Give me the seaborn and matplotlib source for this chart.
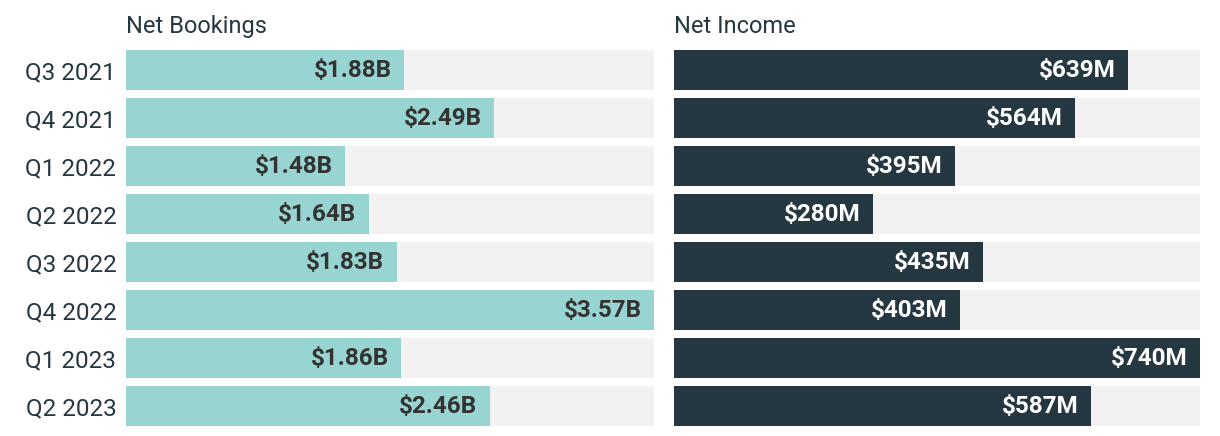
import matplotlib
matplotlib.use("Agg")
import matplotlib.pyplot as plt
import seaborn as sns
import pandas as pd

# data
quarters = ["Q3 2021", "Q4 2021", "Q1 2022", "Q2 2022",
            "Q3 2022", "Q4 2022", "Q1 2023", "Q2 2023"]
net_bookings = [1.88, 2.49, 1.48, 1.64, 1.83, 3.57, 1.86, 2.46]   # $B
net_income = [639, 564, 395, 280, 435, 403, 740, 587]             # $M
bookings_labels = [f"${v:.2f}B" for v in net_bookings]
income_labels = [f"${v}M" for v in net_income]

teal = "#98d5d2"
dark = "#253841"
track = "#f2f2f2"

sns.set_theme(style="white")
plt.rcParams["font.family"] = ["Roboto", "DejaVu Sans"]

fig = plt.figure(figsize=(12.2, 4.36), dpi=100)
ax1 = fig.add_axes([126 / 1220, 10 / 436, 528 / 1220, 376 / 436])
ax2 = fig.add_axes([674 / 1220, 10 / 436, 526 / 1220, 376 / 436])

bar_w = 40 / 48


def draw_panel(ax, values, labels, title, color, text_color):
    df = pd.DataFrame({"quarter": quarters, "value": values,
                       "track": [max(values)] * len(values)})
    # grey track behind each bar
    sns.barplot(data=df, x="track", y="quarter", orient="h", color=track,
                width=bar_w, ax=ax, saturation=1, linewidth=0)
    sns.barplot(data=df, x="value", y="quarter", orient="h", color=color,
                width=bar_w, ax=ax, saturation=1, linewidth=0)
    ax.set_xlim(0, max(values))
    ax.set_ylim(len(quarters) - 1 + bar_w / 2, -bar_w / 2)
    ax.set_xlabel("")
    ax.set_ylabel("")
    ax.set_xticks([])
    sns.despine(ax=ax, left=True, bottom=True)
    # value labels inside the bar end
    for i, (v, lab) in enumerate(zip(values, labels)):
        ax.annotate(lab, xy=(v, i), xytext=(-9, 0), textcoords="offset points",
                    ha="right", va="center", fontsize=17.5, fontweight="bold",
                    color=text_color)
    ax.text(0, 1.045, title, transform=ax.transAxes, ha="left", va="baseline",
            fontsize=17, color=dark)


draw_panel(ax1, net_bookings, bookings_labels, "Net Bookings", teal, "#333333")
draw_panel(ax2, net_income, income_labels, "Net Income", dark, "white")

ax1.tick_params(axis="y", length=0, pad=7, labelsize=17.5, labelcolor=dark)
ax2.set_yticks([])

fig.savefig("out.png", dpi=100)
